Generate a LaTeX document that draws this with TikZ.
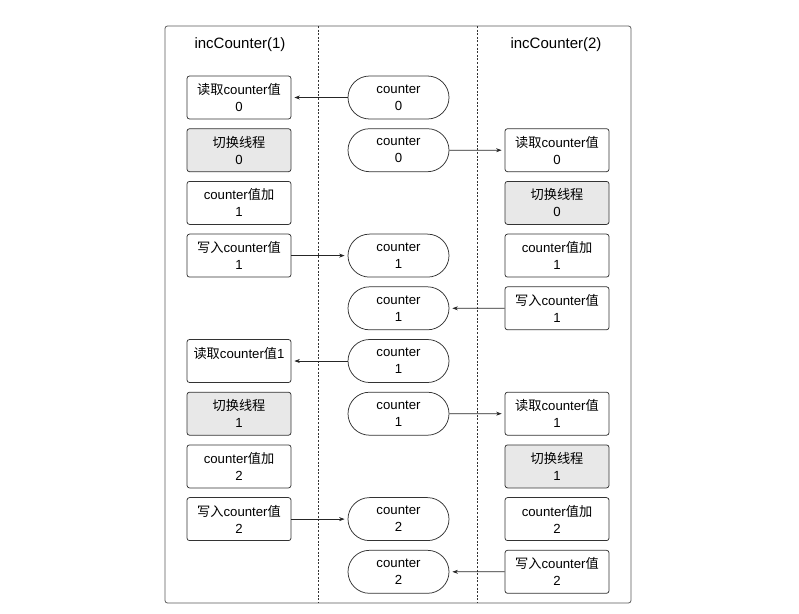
\documentclass[tikz,border=0pt]{standalone}
\usepackage{fontspec}
\setmainfont{Liberation Sans}
\newfontfamily\cjk{Noto Sans CJK SC}
\usetikzlibrary{positioning,shapes.misc,arrows.meta}
\newcommand{\zh}[1]{{\cjk #1}}
\tikzset{
	stepbox/.style={draw=black!80,line width=0.75pt,rounded corners=2.5pt,minimum width=104pt,minimum height=43pt,align=center,inner sep=2pt,font=\fontsize{13.2}{17}\selectfont},
	switchbox/.style={stepbox,fill=black!9},
	valbox/.style={draw=black!80,line width=0.75pt,rounded rectangle,minimum width=105pt,minimum height=43pt,align=center,inner sep=2pt,font=\fontsize{13.2}{17}\selectfont},
	lane/.style={black!80,line width=0.7pt,dash pattern=on 2pt off 1.6pt},
	flow/.style={-{Stealth[length=5.5pt,width=4pt]},black!85,line width=0.65pt,shorten >=3pt}
}
\begin{document}
\begin{tikzpicture}[x=1pt,y=-1pt]
	\useasboundingbox (0,0) rectangle (799,613);
	%frame and lanes
	\draw[black!65,line width=0.8pt,rounded corners=2.5pt] (165,26) rectangle (631,603);
	\draw[lane] (318,26) -- (318,603);
	\draw[lane] (477,26) -- (477,603);
	
	%titles
	\node (t1) at (240,45) {\fontsize{15}{18}\selectfont incCounter(1)};
	\node (t2) at (556,45) {\fontsize{15}{18}\selectfont incCounter(2)};
	
	%incCounter(1)
	\node[stepbox] (l1) at (239,97.5) {\zh{读取}counter\zh{值}\\0};
	\node[switchbox] (l2) at (239,150.2) {\zh{切换线程}\\0};
	\node[stepbox] (l3) at (239,202.9) {counter\zh{值加}\\1};
	\node[stepbox] (l4) at (239,255.6) {\zh{写入}counter\zh{值}\\1};
	\node[stepbox] (l6) at (239,361) {\zh{读取}counter\zh{值}1\\\mbox{}};
	\node[switchbox] (l7) at (239,413.7) {\zh{切换线程}\\1};
	\node[stepbox] (l8) at (239,466.4) {counter\zh{值加}\\2};
	\node[stepbox] (l9) at (239,519.1) {\zh{写入}counter\zh{值}\\2};
	
	%counter
	\node[valbox] (m1) at (398.5,97.5) {counter\\0};
	\node[valbox] (m2) at (398.5,150.2) {counter\\0};
	\node[valbox] (m4) at (398.5,255.6) {counter\\1};
	\node[valbox] (m5) at (398.5,308.3) {counter\\1};
	\node[valbox] (m6) at (398.5,361) {counter\\1};
	\node[valbox] (m7) at (398.5,413.7) {counter\\1};
	\node[valbox] (m9) at (398.5,519.1) {counter\\2};
	\node[valbox] (m10) at (398.5,571.8) {counter\\2};
	
	%incCounter(2)
	\node[stepbox] (r2) at (557,150.2) {\zh{读取}counter\zh{值}\\0};
	\node[switchbox] (r3) at (557,202.9) {\zh{切换线程}\\0};
	\node[stepbox] (r4) at (557,255.6) {counter\zh{值加}\\1};
	\node[stepbox] (r5) at (557,308.3) {\zh{写入}counter\zh{值}\\1};
	\node[stepbox] (r7) at (557,413.7) {\zh{读取}counter\zh{值}\\1};
	\node[switchbox] (r8) at (557,466.4) {\zh{切换线程}\\1};
	\node[stepbox] (r9) at (557,519.1) {counter\zh{值加}\\2};
	\node[stepbox] (r10) at (557,571.8) {\zh{写入}counter\zh{值}\\2};
	
	%arrows
	\draw[flow] (m1) -- (l1);
	\draw[flow] (m2) -- (r2);
	\draw[flow] (l4) -- (m4);
	\draw[flow] (r5) -- (m5);
	\draw[flow] (m6) -- (l6);
	\draw[flow] (m7) -- (r7);
	\draw[flow] (l9) -- (m9);
	\draw[flow] (r10) -- (m10);
\end{tikzpicture}
\end{document}
